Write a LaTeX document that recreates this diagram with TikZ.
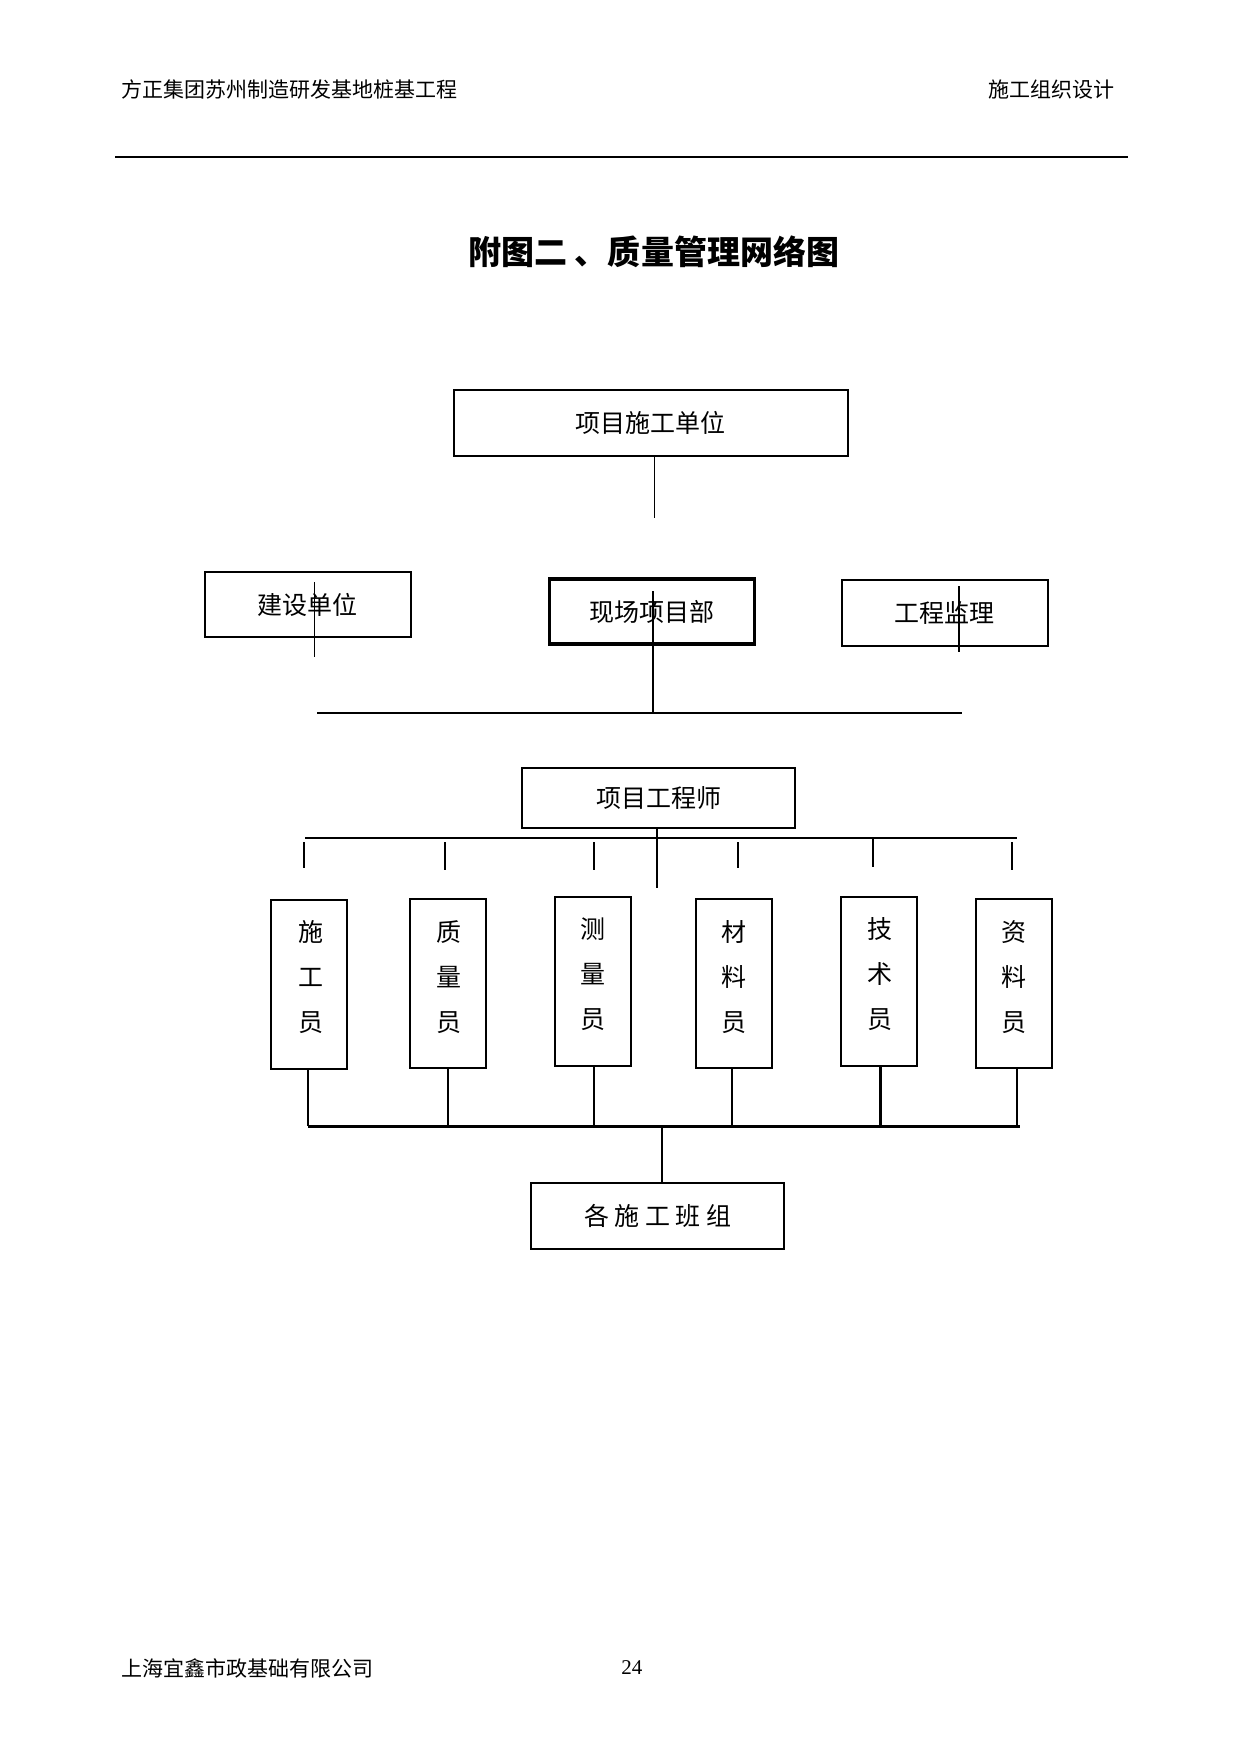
\documentclass[tikz,border=0pt]{standalone}
\usepackage{fontspec}
\setmainfont{Liberation Serif}
\newfontfamily\cjk{Noto Sans CJK SC}
\begin{document}
\begin{tikzpicture}[x=0.5pt,y=-0.5pt,
  box/.style={draw,line width=1pt,inner sep=0pt,font=\cjk\fontsize{12.5}{15}\selectfont},
  vbox/.style={draw,line width=1pt,inner sep=0pt,minimum width=38pt,minimum height=84.5pt},
  vtxt/.style={inner sep=0pt,align=center,font=\cjk\fontsize{12.5}{22.5}\selectfont},
  ln/.style={line width=1pt},
  thn/.style={line width=0.7pt},
  thk/.style={line width=1.5pt}]
\useasboundingbox (0,0) rectangle (1241,1754);
\begin{scope}[xscale=0.995]
% header
\node[anchor=west,inner sep=0pt,font=\cjk\fontsize{10.5}{12}\selectfont] (hl) at (122,90) {方正集团苏州制造研发基地桩基工程};
\node[anchor=east,inner sep=0pt,font=\cjk\fontsize{10.5}{12}\selectfont] (hr) at (1120,90) {施工组织设计};
\coordinate (h1) at (116,157);
\coordinate (h2) at (1134,157);
\draw[line width=1.1pt] (h1) -- (h2);
% title
\node[inner sep=0pt,font=\cjk\bfseries\fontsize{16.5}{20}\selectfont] (title) at (657,252) {附图二 、质量管理网络图};
% top boxes
\node[box,minimum width=197pt,minimum height=33pt] (A) at (654,423) {项目施工单位};
\node[box,minimum width=103pt,minimum height=32.5pt] (B) at (309.5,604.5) {建设单位};
\node[box,line width=1.6pt,minimum width=102.5pt,minimum height=32.5pt] (C) at (655,611.5) {现场项目部};
\node[box,minimum width=103pt,minimum height=33pt] (D) at (949.5,613) {工程监理};
\coordinate (a1) at (658,456);
\coordinate (a2) at (658,518);
\draw[thn] (a1) -- (a2);
\coordinate (b1) at (316,582);
\coordinate (b2) at (316,657);
\draw[thn] (b1) -- (b2);
\coordinate (c1) at (656,591);
\coordinate (c2) at (656,714);
\draw[ln] (c1) -- (c2);
\coordinate (d1) at (964,586);
\coordinate (d2) at (964,652);
\draw[ln] (d1) -- (d2);
\coordinate (m1) at (319,713);
\coordinate (m2) at (967,713);
\draw[ln] (m1) -- (m2);
% engineer
\node[box,minimum width=136.5pt,minimum height=30pt] (E) at (662,798) {项目工程师};
\coordinate (e1) at (660,828);
\coordinate (e2) at (660,888);
\draw[ln] (e1) -- (e2);
\coordinate (t1) at (307,838);
\coordinate (t2) at (1022,838);
\draw[ln] (t1) -- (t2);
\foreach \x/\ya/\yb in {306/842/868, 447/842/870, 597/842/870, 742/842/868, 877/838/867, 1017/842/870}{
  \draw[ln] (\x,\ya) -- (\x,\yb);
}
% staff boxes
\node[vbox] (s1) at (311,984.5) {};
\node[vbox] (s2) at (450.5,983.5) {};
\node[vbox] (s3) at (596,981.5) {};
\node[vbox] (s4) at (738,983.5) {};
\node[vbox] (s5) at (883.5,981.5) {};
\node[vbox] (s6) at (1019,983.5) {};
\node[vtxt] (t1x) at (313,977) {施\\工\\员};
\node[vtxt] (t2x) at (451,977) {质\\量\\员};
\node[vtxt] (t3x) at (596,974) {测\\量\\员};
\node[vtxt] (t4x) at (738,977) {材\\料\\员};
\node[vtxt] (t5x) at (884,974) {技\\术\\员};
\node[vtxt] (t6x) at (1019,977) {资\\料\\员};
% bottom connectors
\coordinate (u1) at (310,1126);
\coordinate (u2) at (450,1126);
\coordinate (u3) at (597,1126);
\coordinate (u4) at (736,1126);
\coordinate (u5) at (885,1126);
\coordinate (u6) at (1022,1126);
\draw[ln] (s1.south -| u1) -- (u1);
\draw[ln] (s2.south -| u2) -- (u2);
\draw[thn] (s3.south -| u3) -- (u3);
\draw[ln] (s4.south -| u4) -- (u4);
\draw[thk] (s5.south -| u5) -- (u5);
\draw[ln] (s6.south -| u6) -- (u6);
\coordinate (w1) at (310,1126);
\coordinate (w2) at (1025,1126);
\draw[thk] (w1) -- (w2);
\node[box,minimum width=126.5pt,minimum height=33pt] (F) at (661,1216) {各 施 工 班 组};
\coordinate (f1) at (665,1126);
\draw[ln] (f1) -- (f1 |- F.north);
% footer
\node[anchor=west,inner sep=0pt,font=\cjk\fontsize{10.5}{12}\selectfont] (fl) at (122,1668) {上海宜鑫市政基础有限公司};
\node[inner sep=0pt,font=\fontsize{10.5}{12}\selectfont] (pg) at (635,1668) {24};
\end{scope}
\end{tikzpicture}
\end{document}
